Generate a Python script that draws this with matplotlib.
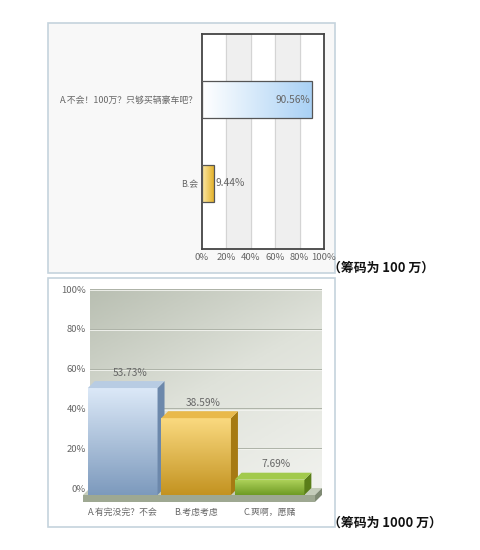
import numpy as np
import matplotlib
matplotlib.use("Agg")
import matplotlib.pyplot as plt
from matplotlib.patches import Rectangle, Polygon
from matplotlib.colors import LinearSegmentedColormap

plt.rcParams['font.family'] = ['Noto Sans CJK SC', 'DejaVu Sans']

# top chart data (stake = 1,000,000)
top_cats = ["B.会", "A.不会！100万？只够买辆豪车吧？"]
top_vals = [9.44, 90.56]
top_ticks = [0, 20, 40, 60, 80, 100]

# bottom chart data (stake = 10,000,000)
bot_cats = ["A.有完没完？不会", "B.考虑考虑", "C.爽啊，愿赌"]
bot_vals = [53.73, 38.59, 7.69]
bot_ticks = [0, 20, 40, 60, 80, 100]

W, H = 480, 550
fig = plt.figure(figsize=(W / 100, H / 100), dpi=100)
fig.patch.set_facecolor("white")


def px_axes(x0, y0, x1, y1):
    # pixel box (top-left origin) -> figure fraction
    return [x0 / W, 1 - y1 / H, (x1 - x0) / W, (y1 - y0) / H]


def grad_fill(ax, patch, c1, c2, horizontal=False, zorder=3):
    # c1 = left / top colour, c2 = right / bottom colour
    cmap = LinearSegmentedColormap.from_list("g", [c1, c2])
    verts = patch.get_path().transformed(patch.get_patch_transform()).vertices
    x0, x1 = verts[:, 0].min(), verts[:, 0].max()
    y0, y1 = verts[:, 1].min(), verts[:, 1].max()
    g = np.linspace(0, 1, 64)
    img = g[None, :] if horizontal else g[:, None]
    im = ax.imshow(img, cmap=cmap, extent=[x0, x1, y0, y1], aspect="auto",
                   zorder=zorder, origin="upper", vmin=0, vmax=1)
    im.set_clip_box(fig.bbox)
    im.set_clip_path(patch)
    return im


# panel frames (drawn in a background axes)
bg = fig.add_axes([0, 0, 1, 1], zorder=-10)
bg.set_xlim(0, W)
bg.set_ylim(H, 0)
bg.axis("off")
for box, fc in [((48, 23, 335, 273), "#f8f8f8"), ((48, 278, 335, 527), "#ffffff")]:
    x0, y0, x1, y1 = box
    bg.add_patch(Rectangle((x0, y0), x1 - x0, y1 - y0, facecolor=fc,
                           edgecolor="#c5d3dd", linewidth=1.2))

txt = "#666666"

# ---------------- top chart ----------------
ax1 = fig.add_axes(px_axes(202, 34, 324, 249))
ax1.set_facecolor("white")
for a, b in [(20, 40), (60, 80)]:
    ax1.axvspan(a, b, color="#efefef", zorder=0)
for t in top_ticks[1:-1]:
    ax1.axvline(t, color="#d4d4d4", linewidth=0.8, zorder=1)
ypos = np.arange(len(top_cats))
bars = ax1.barh(ypos, top_vals, height=0.43, color="none", edgecolor="#555555",
                linewidth=0.9, zorder=4)
grad_fill(ax1, bars[1], "#ffffff", "#a9d1f5", horizontal=True)
grad_fill(ax1, bars[0], "#fbe9a8", "#e4b22c", horizontal=True)
ax1.set_xlim(0, 100)
ax1.set_ylim(-0.78, 1.78)
ax1.set_xticks(top_ticks)
ax1.set_xticklabels([f"{t}%" for t in top_ticks], fontsize=6.8, color=txt)
ax1.set_yticks(ypos)
ax1.set_yticklabels(top_cats, fontsize=6.4, color=txt)
ax1.tick_params(length=0, pad=3)
for s in ax1.spines.values():
    s.set_color("#444444")
    s.set_linewidth(1.3)
ax1.text(top_vals[1] - 1.5, ypos[1], f"{top_vals[1]:.2f}%", ha="right", va="center",
         fontsize=7.3, color=txt, zorder=6)
ax1.text(top_vals[0] + 1.5, ypos[0], f"{top_vals[0]:.2f}%", ha="left", va="center",
         fontsize=7.3, color=txt, zorder=6)

# ---------------- bottom chart (pseudo 3D) ----------------
ax2 = fig.add_axes(px_axes(90, 289, 322, 488))
ax2.set_xlim(-0.54, 2.62)
ax2.set_ylim(0, 100)
for s in ax2.spines.values():
    s.set_visible(False)

# wall gradient
cmap_bg = LinearSegmentedColormap.from_list("bg", ["#f1f2ee", "#dfe2da", "#b9bfb2"])
gx, gy = np.meshgrid(np.linspace(0, 1, 100), np.linspace(1, 0, 100))
ax2.imshow(0.6 * gy + 0.4 * (1 - gx), cmap=cmap_bg, extent=[-0.54, 2.62, 0, 100],
           aspect="auto", zorder=0, vmin=0, vmax=1)
for t in bot_ticks[1:]:
    ax2.axhline(t, color="#aeb3a8", linewidth=0.7, zorder=1)
    ax2.axhline(t - 0.6, color="#f4f5f1", linewidth=0.6, zorder=1)

dx, dy = 0.095, 3.5   # depth of the 3D effect in data units
bw = 0.95
xs = np.arange(len(bot_cats))

# floor slab
x_l, x_r = -0.54, 2.62
floor_top = Polygon([(x_l, 0), (x_r, 0), (x_r - dx, -dy), (x_l - dx, -dy)], closed=True,
                    facecolor="#c4ccba", edgecolor="none", zorder=2, clip_on=False)
floor_front = Polygon([(x_l - dx, -dy), (x_r - dx, -dy), (x_r - dx, -dy - 3.5),
                       (x_l - dx, -dy - 3.5)], closed=True, facecolor="#9ea892",
                      edgecolor="none", zorder=2, clip_on=False)
floor_side = Polygon([(x_r - dx, -dy), (x_r, 0), (x_r, -3.5), (x_r - dx, -dy - 3.5)],
                     closed=True, facecolor="#7f8a74", edgecolor="none", zorder=2,
                     clip_on=False)
for p in (floor_top, floor_front, floor_side):
    ax2.add_patch(p)

bar_cols = [
    ("#dbe8f7", "#7d9abd", "#b8cce3", "#6c88ab"),
    ("#fad97f", "#c39321", "#e9b94b", "#a67a12"),
    ("#b0d45c", "#6f9b25", "#a2ca4c", "#5a7e19"),
]
for x, v, (c_top, c_bot, c_cap, c_side) in zip(xs, bot_vals, bar_cols):
    left = x - bw / 2 - dx
    right = x + bw / 2 - dx
    front = Rectangle((left, -dy), bw, v, facecolor="none", edgecolor="none",
                      zorder=4, clip_on=False)
    ax2.add_patch(front)
    grad_fill(ax2, front, c_top, c_bot, zorder=4)
    side = Polygon([(right, -dy), (right + dx, 0), (right + dx, v), (right, v - dy)],
                   closed=True, facecolor=c_side, edgecolor="none", zorder=4,
                   clip_on=False)
    cap = Polygon([(left, v - dy), (right, v - dy), (right + dx, v), (left + dx, v)],
                  closed=True, facecolor=c_cap, edgecolor="none", zorder=4,
                  clip_on=False)
    ax2.add_patch(side)
    ax2.add_patch(cap)
    ax2.text(x, v + 4.2, f"{v:.2f}%", ha="center", va="center", fontsize=7.3,
             color=txt, zorder=6)

ax2.set_yticks(bot_ticks)
ax2.set_yticklabels([f"{t}%" for t in bot_ticks], fontsize=6.8, color=txt)
ax2.set_xticks(xs - dx)
ax2.set_xticklabels(bot_cats, fontsize=6.4, color=txt)
ax2.tick_params(axis="x", length=0, pad=14)
ax2.tick_params(axis="y", length=0, pad=3)

# stake notes
fig.text(328 / W, 1 - 268 / H, "（筹码为 100 万）", fontsize=9.3, fontweight="bold",
         color="#111111", va="center", ha="left")
fig.text(328 / W, 1 - 523 / H, "（筹码为 1000 万）", fontsize=9.3, fontweight="bold",
         color="#111111", va="center", ha="left")

fig.savefig("out.png", dpi=100)
